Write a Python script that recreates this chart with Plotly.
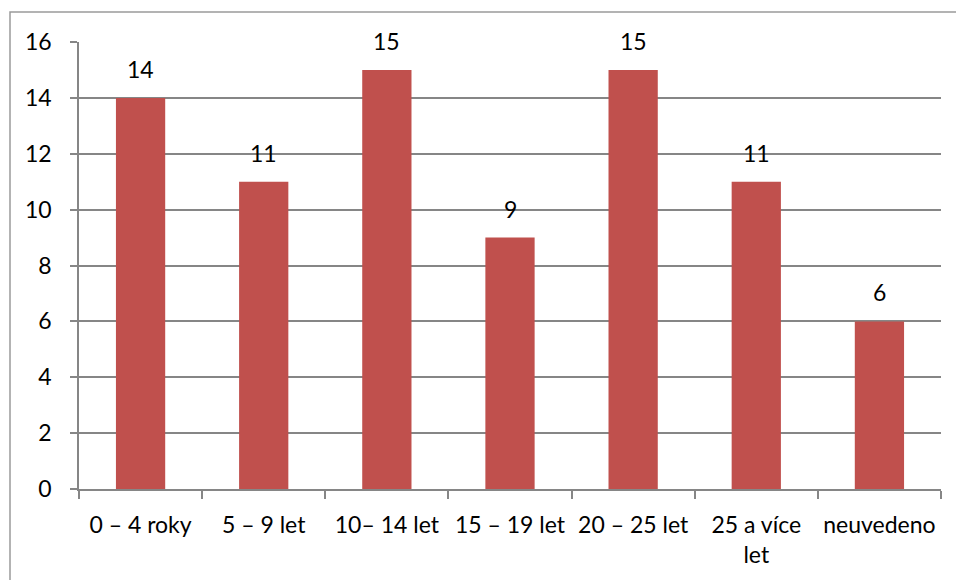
import plotly.graph_objects as go

categories = ["0 – 4 roky", "5 – 9 let", "10– 14 let", "15 – 19 let",
              "20 – 25 let", "25 a více<br>let", "neuvedeno"]
values = [14, 11, 15, 9, 15, 11, 6]
y_ticks = [0, 2, 4, 6, 8, 10, 12, 14, 16]

bar_color = "#C0504D"
grid_color = "#868686"
font_family = "Lato"
font_size = 23

W, H = 956, 580
L, R, T, B = 79, 15, 42, 91
pw, ph = W - L - R, H - T - B

fig = go.Figure(go.Bar(
    x=categories,
    y=values,
    marker=dict(color=bar_color, line=dict(width=0)),
    cliponaxis=False,
))

# value labels floating above each bar
for cat, v in zip(categories, values):
    fig.add_annotation(
        x=cat, y=v, text=str(v), showarrow=False,
        xref="x", yref="y", yanchor="bottom", yshift=13,
        font=dict(family=font_family, size=font_size, color="#000000"),
    )

# outer chart frame, running past the right and bottom page edges
fig.add_shape(
    type="rect", xref="paper", yref="paper",
    x0=(10 - L) / pw, x1=(W + 20 - L) / pw,
    y0=-(H + 20 - T - ph) / ph, y1=1 + (T - 12) / ph,
    line=dict(color="#9a9a9a", width=1.5), layer="below",
)

fig.update_layout(
    width=W, height=H,
    margin=dict(l=L, r=R, t=T, b=B),
    paper_bgcolor="white", plot_bgcolor="white",
    font=dict(family=font_family, size=font_size, color="#000000"),
    bargap=0.6,
    showlegend=False,
    xaxis=dict(
        type="category",
        tickson="boundaries",
        ticks="outside", ticklen=8, tickcolor=grid_color, tickwidth=1.5,
        showgrid=False,
        showline=True, linecolor=grid_color, linewidth=1.5,
        tickfont=dict(family=font_family, size=font_size, color="#000000"),
        ticklabelstandoff=15,
    ),
    yaxis=dict(
        range=[0, 16],
        tickvals=y_ticks,
        ticks="outside", ticklen=7, tickcolor=grid_color, tickwidth=1.5,
        showgrid=True, gridcolor=grid_color, gridwidth=1.5,
        showline=True, linecolor=grid_color, linewidth=1.5,
        zeroline=False,
        tickfont=dict(family=font_family, size=font_size, color="#000000"),
        ticklabelstandoff=14,
    ),
)

fig.write_html("out.html")
